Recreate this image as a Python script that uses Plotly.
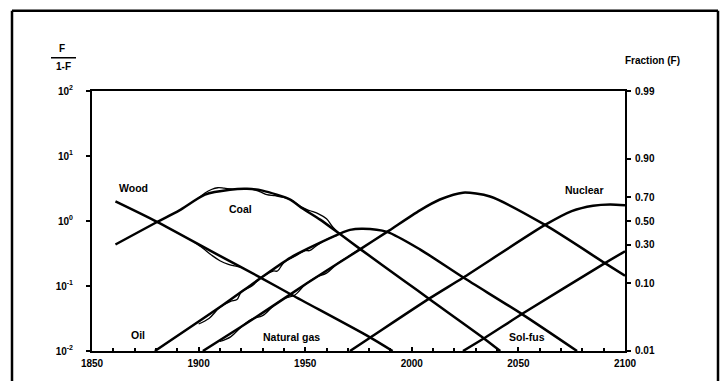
import plotly.graph_objects as go

# ---- data (F/(1-F) values) ----
wood_years = [1861, 1880.5, 1910, 1929, 1944, 1980, 1991]
wood_vals = [2.0, 0.97, 0.29, 0.135, 0.072, 0.0165, 0.01]

coal_years = [1861, 1880.5, 1891, 1903, 1914.7, 1922.7, 1930, 1943, 1948, 1957, 1966, 1976, 1996, 2008.5, 2034, 2041.5]
coal_vals = [0.435, 0.966, 1.46, 2.55, 3.03, 3.13, 2.93, 2.14, 1.62, 1.05, 0.64, 0.366, 0.123, 0.062, 0.0155, 0.01]

oil_years = [1879.5, 1911.4, 1928.8, 1944.3, 1966.3, 1971, 1977, 1988.4, 2003.8, 2024, 2052.2, 2077.5]
oil_vals = [0.01, 0.051, 0.13, 0.288, 0.64, 0.73, 0.76, 0.68, 0.366, 0.136, 0.036, 0.01]

gas_years = [1902, 1919.4, 1933.5, 1950.8, 1975.7, 1988.4, 2003.8, 2013.2, 2024, 2036.7, 2062.5, 2090.6, 2100]
gas_vals = [0.01, 0.023, 0.046, 0.11, 0.366, 0.68, 1.46, 2.14, 2.73, 2.38, 0.87, 0.225, 0.144]

nuclear_years = [1971, 1980.4, 2008.5, 2024, 2062.5, 2075, 2085, 2093, 2100]
nuclear_vals = [0.01, 0.016, 0.065, 0.134, 0.87, 1.42, 1.72, 1.8, 1.75]

solfus_years = [2024, 2034.3, 2052.2, 2090.6, 2100]
solfus_vals = [0.01, 0.016, 0.038, 0.225, 0.342]

# historical statistics (thin wiggly data lines along the fitted curves)
wood_hist_years = [1898, 1902, 1906, 1910, 1914, 1918, 1921]
wood_hist_vals = [0.47, 0.38, 0.30, 0.245, 0.215, 0.20, 0.19]
coal_hist_years = [1900, 1903, 1906, 1909, 1912, 1916, 1920, 1925, 1929, 1932, 1936, 1940, 1944, 1948,
                   1952, 1956, 1960, 1963, 1966]
coal_hist_vals = [2.25, 2.7, 3.05, 3.25, 3.2, 3.1, 3.15, 3.1, 2.8, 2.55, 2.45, 2.3, 2.05, 1.65,
                  1.45, 1.3, 1.08, 0.8, 0.64]
oil_hist_years = [1900, 1905, 1910, 1915, 1918, 1920, 1925, 1930, 1935, 1937, 1940, 1945, 1950, 1952,
                  1955, 1960, 1965]
oil_hist_vals = [0.026, 0.032, 0.047, 0.058, 0.062, 0.081, 0.10, 0.14, 0.17, 0.17, 0.23, 0.285, 0.35, 0.35,
                 0.41, 0.52, 0.60]
gas_hist_years = [1910, 1915, 1920, 1925, 1930, 1935, 1940, 1945, 1950, 1955, 1960, 1965, 1970, 1975]
gas_hist_vals = [0.0140, 0.0165, 0.0235, 0.031, 0.035, 0.049, 0.064, 0.072, 0.105, 0.136, 0.158, 0.22,
                 0.28, 0.36]

left_tick_vals = [0.01, 0.1, 1, 10, 100]
left_tick_text = ["10<sup>-2</sup>", "10<sup>-1</sup>", "10<sup>0</sup>", "10<sup>1</sup>", "10<sup>2</sup>"]
fraction_vals = [0.99, 0.90, 0.70, 0.50, 0.30, 0.10, 0.01]
fraction_text = ["0.99", "0.90", "0.70", "0.50", "0.30", "0.10", "0.01"]
year_ticks = [1850, 1900, 1950, 2000, 2050, 2100]

FONT = "Liberation Sans"
fig = go.Figure()

for yrs, vals, name in [
    (wood_years, wood_vals, "Wood"),
    (coal_years, coal_vals, "Coal"),
    (oil_years, oil_vals, "Oil"),
    (gas_years, gas_vals, "Natural gas"),
    (nuclear_years, nuclear_vals, "Nuclear"),
    (solfus_years, solfus_vals, "Sol-fus"),
]:
    fig.add_trace(go.Scatter(x=yrs, y=vals, mode="lines", name=name,
                             line=dict(color="black", width=2.5, shape="spline", smoothing=0.7),
                             showlegend=False))

for yrs, vals, name in [
    (wood_hist_years, wood_hist_vals, "Wood data"),
    (coal_hist_years, coal_hist_vals, "Coal data"),
    (oil_hist_years, oil_hist_vals, "Oil data"),
    (gas_hist_years, gas_hist_vals, "Gas data"),
]:
    fig.add_trace(go.Scatter(x=yrs, y=vals, mode="lines", name=name,
                             line=dict(color="black", width=1.3, shape="spline", smoothing=1.0),
                             showlegend=False))

# invisible trace for the right axis
fig.add_trace(go.Scatter(x=[1850], y=[1], yaxis="y2", mode="markers",
                         marker=dict(opacity=0), showlegend=False, hoverinfo="skip"))

tickfont = dict(family=FONT, size=10, color="black", weight="bold")

fig.update_layout(
    width=724, height=381,
    margin=dict(l=92, r=99, t=91, b=24),
    paper_bgcolor="white", plot_bgcolor="white",
    xaxis=dict(range=[1850, 2100], tickvals=year_ticks, ticktext=[str(v) for v in year_ticks],
               showline=True, linewidth=2, linecolor="black", mirror=True,
               ticks="inside", ticklen=4, tickwidth=1.5, tickcolor="black",
               minor=dict(dtick=10, ticks="inside", ticklen=3, tickcolor="black", tickwidth=1.5),
               showgrid=False, zeroline=False, tickfont=tickfont, ticklabelstandoff=2),
    yaxis=dict(type="log", range=[-2, 2], tickvals=left_tick_vals, ticktext=left_tick_text,
               showline=True, linewidth=2, linecolor="black",
               ticks="outside", ticklen=4, tickwidth=1.5, tickcolor="black",
               showgrid=False, zeroline=False, tickfont=tickfont, ticklabelstandoff=11),
    yaxis2=dict(type="log", range=[-2, 2], overlaying="y", side="right",
                tickvals=[f / (1 - f) for f in fraction_vals], ticktext=fraction_text,
                showline=True, linewidth=2, linecolor="black",
                ticks="outside", ticklen=4, tickwidth=1.5, tickcolor="black",
                showgrid=False, zeroline=False, tickfont=tickfont, ticklabelstandoff=2),
)

def px2paper(px, py):
    return (px - 92) / 533.0, (357 - py) / 266.0

labfont = dict(family=FONT, size=10.5, color="black", weight="bold")
labels = [("Wood", 133, 190), ("Coal", 240, 212), ("Oil", 138, 341),
          ("Natural gas", 291, 343), ("Sol-fus", 527, 343), ("Nuclear", 584, 192)]
for text, px, py in labels:
    x, y = px2paper(px, py)
    fig.add_annotation(x=x, y=y, xref="paper", yref="paper", text=text, showarrow=False,
                       font=labfont, xanchor="center", yanchor="middle")

for text, px, py in [("F", 62, 48), ("1-F", 63, 66), ("Fraction (F)", 652, 60)]:
    x, y = px2paper(px, py)
    fig.add_annotation(x=x, y=y, xref="paper", yref="paper", text=text, showarrow=False,
                       font=dict(family=FONT, size=10, color="black", weight="bold"),
                       xanchor="center", yanchor="middle")

x0, y0 = px2paper(51, 57)
x1, _ = px2paper(76, 57)
fig.add_shape(type="line", xref="paper", yref="paper", x0=x0, x1=x1, y0=y0, y1=y0,
              line=dict(color="black", width=1.5))

# outer frame (left, top, right edges; bottom lies below the picture)
fx0, fy0 = px2paper(12, 9)
fx1, fy1 = px2paper(718, 395)
for ax0, ay0, ax1, ay1 in [(fx0, fy1, fx0, fy0), (fx0, fy0, fx1, fy0), (fx1, fy0, fx1, fy1)]:
    fig.add_shape(type="line", xref="paper", yref="paper", x0=ax0, y0=ay0, x1=ax1, y1=ay1,
                  line=dict(color="black", width=2.5), layer="above")

fig.write_html("out.html", post_script="document.body.style.margin='0px';",
               config={"displayModeBar": False})
